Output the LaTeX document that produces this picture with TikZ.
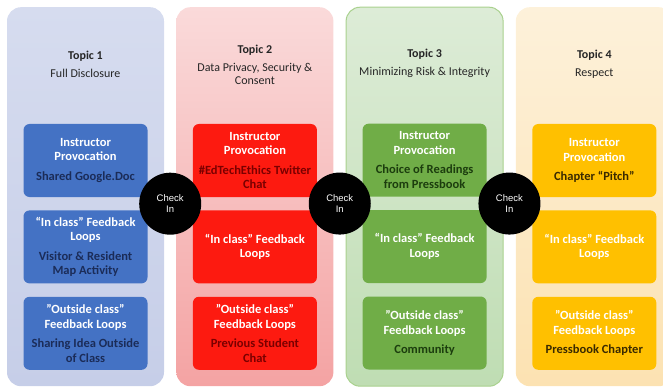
\documentclass[tikz,border=0pt]{standalone}
\usepackage{fontspec}
\setmainfont{Carlito}
\newfontfamily\checkfont{Liberation Sans}
\usepackage{xcolor}
\definecolor{Panel Blue Top}{HTML}{D6DCEF}
\definecolor{Panel Blue Bottom}{HTML}{C6CEE8}
\definecolor{Panel Red Top}{HTML}{FADADA}
\definecolor{Panel Red Bottom}{HTML}{F4A3A3}
\definecolor{Panel Green Top}{HTML}{DDECD7}
\definecolor{Panel Green Bottom}{HTML}{BFDDB3}
\definecolor{Panel Green Line}{HTML}{A9D18E}
\definecolor{Panel Gold Top}{HTML}{FDF1DA}
\definecolor{Panel Gold Bottom}{HTML}{FCE2B2}
\definecolor{Office Blue}{HTML}{4472C4}
\definecolor{Signal Red}{HTML}{FD1A10}
\definecolor{Office Green}{HTML}{70AD47}
\definecolor{Office Gold}{HTML}{FFC000}
\definecolor{Navy Ink}{HTML}{1B2C58}
\definecolor{Red Ink}{HTML}{7A0000}
\definecolor{Green Ink}{HTML}{1C3D0E}
\definecolor{Gold Ink}{HTML}{3A2A00}
\colorlet{c1}{Office Blue}
\colorlet{c2}{Signal Red}
\colorlet{c3}{Office Green}
\colorlet{c4}{Office Gold}
\usepackage{tikz}
\usetikzlibrary{calc, positioning}
\newcommand{\subtxt}[1]{\textcolor{subcol}{#1}}
\tikzset{
	x = 1pt,
	y = 1pt,
	panel/.style={
		rounded corners=14pt,
		minimum width=157pt,
		minimum height=379pt,
		inner sep=0pt,
		anchor=north
	},
	box/.style={
		rounded corners=6pt,
		minimum width=124pt,
		minimum height=73pt,
		inner sep=2pt,
		align=center,
		text=white,
		font=\bfseries\fontsize{12.5}{14.5}\selectfont
	},
	ink/.style={
		execute at begin node={\colorlet{subcol}{#1}}
	},
	topic/.style={
		align=center,
		text=black!85,
		font=\fontsize{12}{13}\selectfont
	},
	check in/.style={
		circle,
		fill=black,
		minimum size=62pt,
		inner sep=0pt,
		align=center,
		text=white,
		font=\checkfont\fontsize{9.5}{11}\selectfont
	}
}

\begin{document}
\begin{tikzpicture}
\useasboundingbox (0,0) rectangle (663,386);
\clip (0,0) rectangle (663,386);
% ---
% Topic panels
% ---
\node[panel, top color=Panel Blue Top, bottom color=Panel Blue Bottom] at (85.5,379) (p1) {};
\node[panel, right=12pt of p1, top color=Panel Red Top, bottom color=Panel Red Bottom] (p2) {};
\node[panel, right=12pt of p2, top color=Panel Green Top, bottom color=Panel Green Bottom, draw=Panel Green Line, line width=1pt] (p3) {};
\node[panel, right=12pt of p3, top color=Panel Gold Top, bottom color=Panel Gold Bottom] (p4) {};

\node[topic] at ([yshift=-57pt]p1.north) (t1) {\textbf{Topic 1}\\[5pt]Full Disclosure};
\node[topic] at ([yshift=-58pt]p2.north) (t2) {\textbf{Topic 2}\\[5pt]Data Privacy, Security \&\\Consent};
\node[topic] at ([yshift=-57pt]p3.north) (t3) {\textbf{Topic 3}\\[5pt]Minimizing Risk \& Integrity};
\node[topic] at ([yshift=-57pt]p4.north) (t4) {\textbf{Topic 4}\\[5pt]Respect};

% ---
% Provocation and feedback boxes
% ---
\node[box, fill=c1, ink=Navy Ink] at ([yshift=-153.5pt]p1.north) (b1a) {Instructor\\Provocation\\[5pt]\subtxt{Shared Google.Doc}};
\node[box, below=13pt of b1a, fill=c1, ink=Navy Ink] (b1b) {“In class” Feedback\\Loops\\[5pt]\subtxt{Visitor \& Resident}\\\subtxt{Map Activity}};
\node[box, below=13pt of b1b, fill=c1, ink=Navy Ink] (b1c) {"Outside class”\\Feedback Loops\\[5pt]\subtxt{Sharing Idea Outside}\\\subtxt{of Class}};

\node[box, fill=c2, ink=Red Ink] at ([yshift=-153.5pt]p2.north) (b2a) {Instructor\\Provocation\\[5pt]\subtxt{\#EdTechEthics Twitter}\\\subtxt{Chat}};
\node[box, below=13pt of b2a, fill=c2, ink=Red Ink] (b2b) {“In class” Feedback\\Loops};
\node[box, below=13pt of b2b, fill=c2, ink=Red Ink] (b2c) {"Outside class”\\Feedback Loops\\[5pt]\subtxt{Previous Student}\\\subtxt{Chat}};

\node[box, fill=c3, ink=Green Ink] at ([yshift=-153.5pt]p3.north) (b3a) {Instructor\\Provocation\\[5pt]\subtxt{Choice of Readings}\\\subtxt{from Pressbook}};
\node[box, below=13pt of b3a, fill=c3, ink=Green Ink] (b3b) {“In class” Feedback\\Loops};
\node[box, below=13pt of b3b, fill=c3, ink=Green Ink] (b3c) {"Outside class”\\Feedback Loops\\[5pt]\subtxt{Community}};

\node[box, fill=c4, ink=Gold Ink] at ([yshift=-153.5pt]p4.north) (b4a) {Instructor\\Provocation\\[5pt]\subtxt{Chapter “Pitch”}};
\node[box, below=13pt of b4a, fill=c4, ink=Gold Ink] (b4b) {“In class” Feedback\\Loops};
\node[box, below=13pt of b4b, fill=c4, ink=Gold Ink] (b4c) {"Outside class”\\Feedback Loops\\[5pt]\subtxt{Pressbook Chapter}};

% ---
% Check-ins between topics
% ---
\node[check in] at ($(b1a.south east)!.5!(b2b.north west)$) (ck1) {Check\\In};
\node[check in] at ($(b2a.south east)!.5!(b3b.north west)$) (ck2) {Check\\In};
\node[check in] at ($(b3a.south east)!.5!(b4b.north west)$) (ck3) {Check\\In};
\end{tikzpicture}
\end{document}
